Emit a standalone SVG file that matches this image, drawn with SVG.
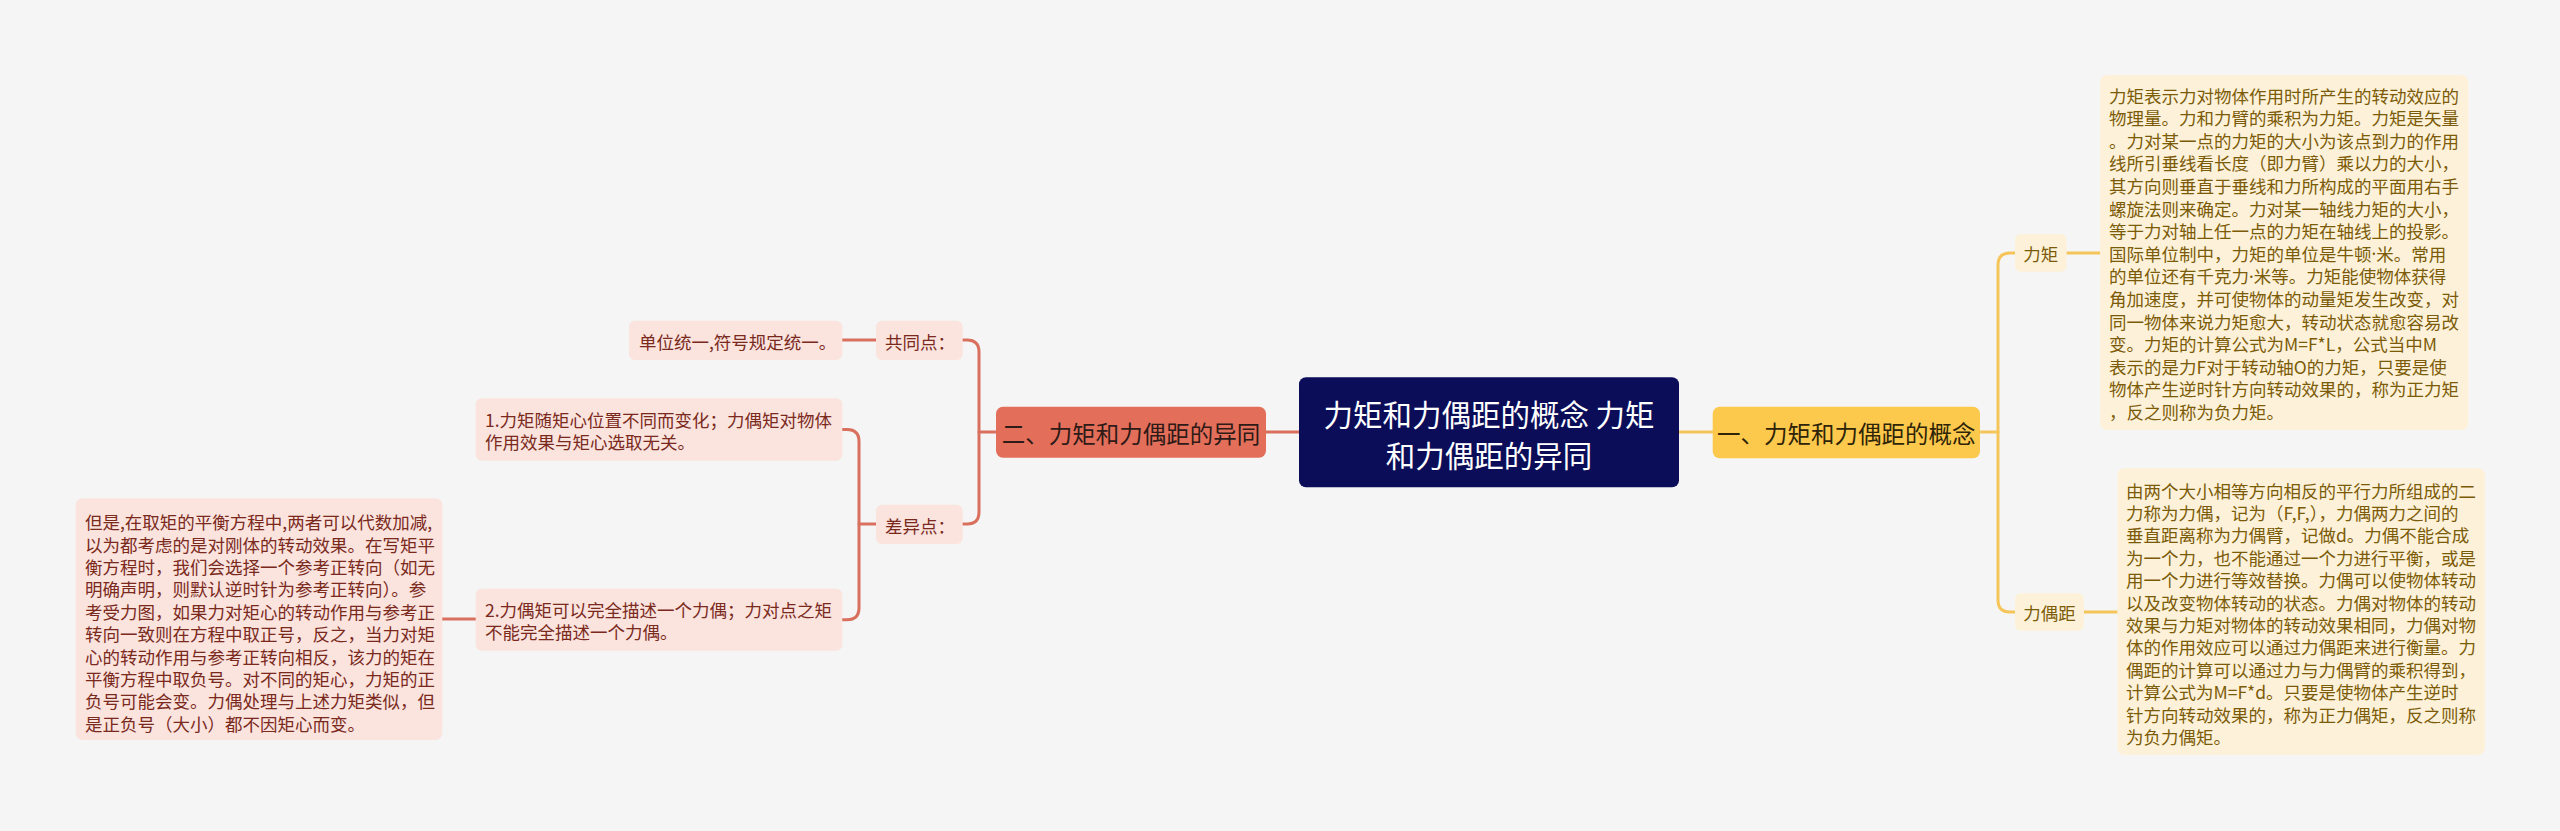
<svg xmlns="http://www.w3.org/2000/svg" width="2560" height="831" viewBox="0 0 2560 831">
<style>
text{font-family:"Noto Sans CJK SC","Noto Sans",sans-serif;dominant-baseline:central}
.dot{font-family:"Noto Sans","Liberation Sans",sans-serif}
.bg{fill:#f5f5f5}
.c{fill:none;stroke-width:3;stroke-linecap:round}
.cr{stroke:#d9705e}
.cy{stroke:#f6c55a}
.root{fill:#0b0d59}
.rt{fill:#ffffff;font-size:29.5px;text-anchor:middle}
.red{fill:#e36f5b}
.redt{fill:#2e1a16;font-size:23.5px;text-anchor:middle}
.yel{fill:#fdc94c}
.yelt{fill:#2e2408;font-size:23.5px;text-anchor:middle}
.pk{fill:#fbe3de}
.pkt{fill:#7a2a1c;font-size:17.5px}
.cm{fill:#fdf2d9}
.cmt{fill:#7c5b08;font-size:17.5px}
</style>
<rect class="bg" x="0" y="0" width="2560" height="831"/>
<g id="connectors">
<path class="c cr" d="M1266 432 H1299"/>
<path class="c cy" d="M1679 432 H1712.7"/>
<path class="c cy" d="M1980 432 H1998"/>
<path class="c cy" d="M2015 253 H2010 Q1998 253 1998 265 V600 Q1998 612 2010 612 H2015"/>
<path class="c cy" d="M2066.7 253 H2100"/>
<path class="c cy" d="M2084 612 H2117"/>
<path class="c cr" d="M996 432 H979"/>
<path class="c cr" d="M962.7 340 H967 Q979 340 979 352 V512 Q979 524 967 524 H962.7"/>
<path class="c cr" d="M876 340 H842.3"/>
<path class="c cr" d="M876 524 H859"/>
<path class="c cr" d="M842.3 429.5 H847 Q859 429.5 859 441.5 V607.7 Q859 619.7 847 619.7 H842.3"/>
<path class="c cr" d="M475.7 619 H442.3"/>
</g>
<g id="root">
<rect class="root" x="1299" y="377.3" width="380" height="110" rx="7"/>
<text class="rt" x="1489" y="413.3">力矩和力偶距的概念 力矩</text>
<text class="rt" x="1489" y="454">和力偶距的异同</text>
</g>
<g id="n-concept">
<rect class="yel" x="1712.7" y="406.7" width="267.3" height="51.6" rx="7"/>
<text class="yelt" x="1846.3" y="432.5">一、力矩和力偶距的概念</text>
</g>
<g id="n-diff">
<rect class="red" x="996" y="406.7" width="270" height="51" rx="7"/>
<text class="redt" x="1131" y="432.5">二、力矩和力偶距的异同</text>
</g>
<g id="n-moment">
<rect class="cm" x="2015" y="234" width="51.7" height="37.7" rx="6"/>
<text class="cmt" x="2040.8" y="253" text-anchor="middle">力矩</text>
</g>
<g id="n-couple">
<rect class="cm" x="2015" y="593.3" width="69" height="37.4" rx="6"/>
<text class="cmt" x="2049.5" y="612" text-anchor="middle">力偶距</text>
</g>
<g id="n-moment-desc">
<rect class="cm" x="2100" y="75" width="368.3" height="355" rx="7"/>
<text class="cmt" x="2109" y="95">力矩表示力对物体作用时所产生的转动效应的</text>
<text class="cmt" x="2109" y="117.6">物理量。力和力臂的乘积为力矩。力矩是矢量</text>
<text class="cmt" x="2109" y="140.2">。力对某一点的力矩的大小为该点到力的作用</text>
<text class="cmt" x="2109" y="162.8">线所引垂线看长度（即力臂）乘以力的大小，</text>
<text class="cmt" x="2109" y="185.4">其方向则垂直于垂线和力所构成的平面用右手</text>
<text class="cmt" x="2109" y="208">螺旋法则来确定。力对某一轴线力矩的大小，</text>
<text class="cmt" x="2109" y="230.6">等于力对轴上任一点的力矩在轴线上的投影。</text>
<text class="cmt" x="2109" y="253.2">国际单位制中，力矩的单位是牛顿<tspan class="dot">·</tspan>米。常用</text>
<text class="cmt" x="2109" y="275.8">的单位还有千克力<tspan class="dot">·</tspan>米等。力矩能使物体获得</text>
<text class="cmt" x="2109" y="298.4">角加速度，并可使物体的动量矩发生改变，对</text>
<text class="cmt" x="2109" y="321">同一物体来说力矩愈大，转动状态就愈容易改</text>
<text class="cmt" x="2109" y="343.6">变。力矩的计算公式为M=F*L，公式当中M</text>
<text class="cmt" x="2109" y="366.2">表示的是力F对于转动轴O的力矩，只要是使</text>
<text class="cmt" x="2109" y="388.8">物体产生逆时针方向转动效果的，称为正力矩</text>
<text class="cmt" x="2109" y="411.4">，反之则称为负力矩。</text>
</g>
<g id="n-couple-desc">
<rect class="cm" x="2117.3" y="468.3" width="367.7" height="286.7" rx="7"/>
<text class="cmt" x="2126" y="490">由两个大小相等方向相反的平行力所组成的二</text>
<text class="cmt" x="2126" y="512.4">力称为力偶，记为（F,F,），力偶两力之间的</text>
<text class="cmt" x="2126" y="534.8">垂直距离称为力偶臂，记做d。力偶不能合成</text>
<text class="cmt" x="2126" y="557.2">为一个力，也不能通过一个力进行平衡，或是</text>
<text class="cmt" x="2126" y="579.6">用一个力进行等效替换。力偶可以使物体转动</text>
<text class="cmt" x="2126" y="602">以及改变物体转动的状态。力偶对物体的转动</text>
<text class="cmt" x="2126" y="624.4">效果与力矩对物体的转动效果相同，力偶对物</text>
<text class="cmt" x="2126" y="646.8">体的作用效应可以通过力偶距来进行衡量。力</text>
<text class="cmt" x="2126" y="669.2">偶距的计算可以通过力与力偶臂的乘积得到，</text>
<text class="cmt" x="2126" y="691.6">计算公式为M=F*d。只要是使物体产生逆时</text>
<text class="cmt" x="2126" y="714">针方向转动效果的，称为正力偶矩，反之则称</text>
<text class="cmt" x="2126" y="736.4">为负力偶矩。</text>
</g>
<g id="n-common">
<rect class="pk" x="876" y="320.7" width="86.7" height="39.3" rx="6"/>
<text class="pkt" x="885" y="341">共同点：</text>
</g>
<g id="n-common-1">
<rect class="pk" x="629" y="320.7" width="213.3" height="39.3" rx="6"/>
<text class="pkt" x="639" y="341">单位统一,符号规定统一。</text>
</g>
<g id="n-differ">
<rect class="pk" x="876" y="504.7" width="86.7" height="39.3" rx="6"/>
<text class="pkt" x="885" y="525">差异点：</text>
</g>
<g id="n-differ-1">
<rect class="pk" x="475.7" y="398.3" width="366.6" height="62.4" rx="6"/>
<text class="pkt" x="485" y="419.3">1.力矩随矩心位置不同而变化；力偶矩对物体</text>
<text class="pkt" x="485" y="441.7">作用效果与矩心选取无关。</text>
</g>
<g id="n-differ-2">
<rect class="pk" x="475.7" y="588.7" width="366.6" height="62" rx="6"/>
<text class="pkt" x="485" y="609.3">2.力偶矩可以完全描述一个力偶；力对点之矩</text>
<text class="pkt" x="485" y="631.7">不能完全描述一个力偶。</text>
</g>
<g id="n-differ-2-desc">
<rect class="pk" x="75.7" y="498.3" width="366.6" height="241.7" rx="7"/>
<text class="pkt" x="85" y="521.7">但是,在取矩的平衡方程中,两者可以代数加减,</text>
<text class="pkt" x="85" y="544.1">以为都考虑的是对刚体的转动效果。在写矩平</text>
<text class="pkt" x="85" y="566.5">衡方程时，我们会选择一个参考正转向（如无</text>
<text class="pkt" x="85" y="588.9">明确声明，则默认逆时针为参考正转向）。参</text>
<text class="pkt" x="85" y="611.3">考受力图，如果力对矩心的转动作用与参考正</text>
<text class="pkt" x="85" y="633.7">转向一致则在方程中取正号，反之，当力对矩</text>
<text class="pkt" x="85" y="656.1">心的转动作用与参考正转向相反，该力的矩在</text>
<text class="pkt" x="85" y="678.5">平衡方程中取负号。对不同的矩心，力矩的正</text>
<text class="pkt" x="85" y="700.9">负号可能会变。力偶处理与上述力矩类似，但</text>
<text class="pkt" x="85" y="723.3">是正负号（大小）都不因矩心而变。</text>
</g>
</svg>
